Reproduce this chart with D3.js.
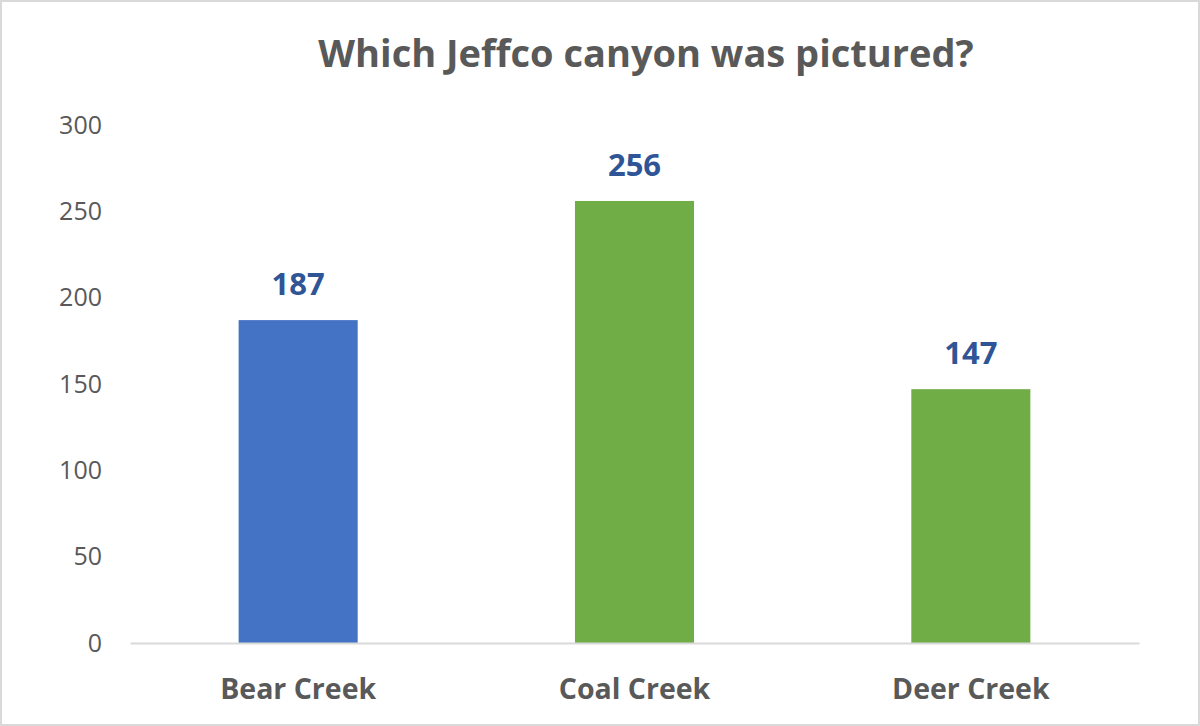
<!DOCTYPE html>
<html>
<head>
<meta charset="utf-8">
<script src="https://cdn.jsdelivr.net/npm/d3@7"></script>
<style>
    body { margin: 0; background: #fff; }
</style>
</head>
<body>
<div id="grafico"></div>
<script>

// Dados do gráfico
const categorias = ["Bear Creek", "Coal Creek", "Deer Creek"]
const valores = [187, 256, 147]
const cores_barras = ["#4472C4", "#70AD47", "#70AD47"]
const ticks_y = [0, 50, 100, 150, 200, 250, 300]
const titulo = "Which Jeffco canyon was pictured?"

// Configurações do gráfico
let largura_total = 1200
let altura_total = 726
let margin = { top: 125, right: 61, bottom: 83, left: 130 }
let width = largura_total - margin.left - margin.right
let height = altura_total - margin.top - margin.bottom

const fonte = "'Open Sans', 'DejaVu Sans', sans-serif"

// Criação do SVG
let svg_base = d3.select('#grafico').append('svg')
    .attr('width', largura_total)
    .attr('height', altura_total)

// Borda da área
svg_base.append('rect')
    .attr('x', 1)
    .attr('y', 1)
    .attr('width', largura_total - 2)
    .attr('height', altura_total - 2)
    .attr('fill', '#fff')
    .attr('stroke', '#D9D9D9')
    .attr('stroke-width', 2)

// Título
svg_base.append('text')
    .attr('x', 646)
    .attr('y', 67)
    .attr('text-anchor', 'middle')
    .style('font-family', fonte)
    .style('font-weight', 'bold')
    .style('font-size', '38px')
    .attr('fill', '#595959')
    .text(titulo)

let svg = svg_base.append('g')
    .attr('transform', `translate(${margin.left}, ${margin.top})`)

// Escalas x e y
let x = d3.scaleBand().domain(categorias).range([0, width]).paddingInner(0.646).paddingOuter(0.323)
let y = d3.scaleLinear().domain([0, 300]).range([height, 0])

// Eixo y (somente rótulos)
let eixo_y = svg.append('g')
    .call(d3.axisLeft(y).tickValues(ticks_y).tickSize(0).tickPadding(28))
eixo_y.select('.domain').remove()
eixo_y.selectAll('text')
    .style('font-family', fonte)
    .style('font-size', '25px')
    .attr('fill', '#595959')

// Barras
svg.selectAll('.barra')
    .data(valores)
    .enter()
    .append('rect')
    .attr('class', 'barra')
    .attr('x', (d, i) => x(categorias[i]))
    .attr('y', d => y(d))
    .attr('width', x.bandwidth())
    .attr('height', d => height - y(d))
    .attr('fill', (d, i) => cores_barras[i])

// Eixo x
let eixo_x = svg.append('g')
    .attr('transform', `translate(0, ${height})`)
    .call(d3.axisBottom(x).tickSize(0).tickPadding(36))
eixo_x.select('.domain')
    .attr('stroke', '#D9D9D9')
    .attr('stroke-width', 2)
eixo_x.selectAll('text')
    .style('font-family', fonte)
    .style('font-weight', 'bold')
    .style('font-size', '28.5px')
    .attr('fill', '#595959')

// Rótulos dos valores
svg.selectAll('.rotulo')
    .data(valores)
    .enter()
    .append('text')
    .attr('class', 'rotulo')
    .attr('x', (d, i) => x(categorias[i]) + x.bandwidth() / 2)
    .attr('y', d => y(d) - 25)
    .attr('text-anchor', 'middle')
    .style('font-family', fonte)
    .style('font-weight', 'bold')
    .style('font-size', '31px')
    .attr('fill', '#2F5597')
    .text(d => d)

</script>
</body>
</html>
